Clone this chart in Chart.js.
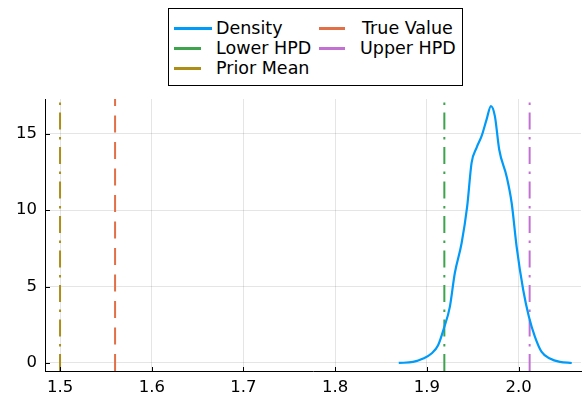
<!DOCTYPE html>
<html>
<head>
<meta charset="utf-8">
<script src="https://cdn.jsdelivr.net/npm/chart.js@4/dist/chart.umd.min.js"></script>
<style>
  html, body { margin: 0; padding: 0; background: #fff; }
  #wrap { position: relative; width: 583px; height: 400px; }
  #legend {
    position: absolute; left: 168px; top: 8px; width: 295px; height: 78px;
    border: 1px solid #000; background: #fff; box-sizing: border-box;
    font-family: "DejaVu Sans", sans-serif; font-size: 17.5px; color: #000;
  }
  .item { position: absolute; height: 20px; line-height: 20px; white-space: nowrap; }
  .item span.swatch { position: absolute; top: 9px; height: 3px; }
  .item span.label { position: absolute; top: 0px; }
</style>
</head>
<body>
<div id="wrap">
  <canvas id="chart" width="583" height="400"></canvas>
  <div id="legend"></div>
</div>
<script>
// kernel density of the posterior draws
const densityX = [1.8693, 1.8849, 1.8959, 1.9050, 1.9122, 1.9188, 1.9250, 1.9304, 1.9378, 1.9439,
                  1.9487, 1.9541, 1.9596, 1.9651, 1.9698, 1.9741, 1.9788, 1.9869, 1.9924, 1.9978,
                  2.0050, 2.0112, 2.0178, 2.0251, 2.0341, 2.0450, 2.0579];
const densityY = [0.00, 0.07, 0.29, 0.62, 1.16, 2.32, 3.67, 5.87, 7.83, 10.24,
                  13.08, 14.07, 14.83, 15.93, 16.80, 16.14, 13.96, 12.20, 10.46, 7.61,
                  4.77, 3.02, 1.71, 0.72, 0.29, 0.07, 0.00];

// reference values shown as vertical lines
const trueValue = 1.560;
const lowerHPD = 1.919;
const upperHPD = 2.012;
const priorMean = 1.500;

const xTicks = [1.5, 1.6, 1.7, 1.8, 1.9, 2.0];
const yTicks = [0, 5, 10, 15];
const xRange = [1.4836, 2.068];
const yRange = [-0.525, 17.26];

const palette = {
  density: '#009af9', trueValue: '#e26f46', lower: '#3da44d', upper: '#c271d2', prior: '#ac8d18'
};

function vline(label, x, color, dash) {
  return {
    label: label,
    data: [{ x: x, y: yRange[0] }, { x: x, y: yRange[1] }],
    borderColor: color,
    borderWidth: 2,
    borderDash: dash,
    borderCapStyle: 'butt',
    pointRadius: 0,
    fill: false
  };
}

const datasets = [
  {
    label: 'Density',
    data: densityX.map((x, i) => ({ x: x, y: densityY[i] })),
    borderColor: palette.density,
    borderWidth: 2.2,
    pointRadius: 0,
    cubicInterpolationMode: 'monotone',
    fill: false
  },
  vline('True Value', trueValue, palette.trueValue, [17, 9.5]),
  vline('Lower HPD', lowerHPD, palette.lower, [17, 7.5, 2.5, 7.5]),
  vline('Upper HPD', upperHPD, palette.upper, [17, 7.5, 2.5, 7.5]),
  vline('Prior Mean', priorMean, palette.prior, [17, 7.5, 2.5, 7.5])
];

// short inward tick marks on both axes
const innerTicks = {
  id: 'innerTicks',
  afterDraw(chart) {
    const { ctx, chartArea, scales } = chart;
    ctx.save();
    ctx.strokeStyle = '#000';
    ctx.lineWidth = 1;
    ctx.beginPath();
    scales.x.ticks.forEach(t => {
      const px = Math.round(scales.x.getPixelForValue(t.value)) + 0.5;
      ctx.moveTo(px, chartArea.bottom);
      ctx.lineTo(px, chartArea.bottom - 4);
    });
    scales.y.ticks.forEach(t => {
      const py = Math.round(scales.y.getPixelForValue(t.value)) + 0.5;
      ctx.moveTo(chartArea.left, py);
      ctx.lineTo(chartArea.left + 5, py);
    });
    ctx.stroke();
    ctx.restore();
  }
};

const tickFont = { family: '"DejaVu Sans", sans-serif', size: 16.5 };

new Chart(document.getElementById('chart'), {
  type: 'line',
  data: { datasets: datasets },
  options: {
    responsive: false,
    animation: false,
    layout: { padding: { top: 99, right: 2, left: 0, bottom: 0 } },
    plugins: { legend: { display: false }, tooltip: { enabled: false } },
    scales: {
      x: {
        type: 'linear',
        min: xRange[0],
        max: xRange[1],
        afterBuildTicks: s => { s.ticks = xTicks.map(v => ({ value: v })); },
        afterFit: s => { s.height = 29; },
        grid: { color: 'rgba(0,0,0,0.1)', lineWidth: 1, drawTicks: false },
        border: { color: '#000', width: 1 },
        ticks: { color: '#000', font: tickFont, padding: 7, callback: v => v.toFixed(1) }
      },
      y: {
        type: 'linear',
        min: yRange[0],
        max: yRange[1],
        afterBuildTicks: s => { s.ticks = yTicks.map(v => ({ value: v })); },
        afterFit: s => { s.width = 45; },
        grid: { color: 'rgba(0,0,0,0.1)', lineWidth: 1, drawTicks: false },
        border: { color: '#000', width: 1 },
        ticks: { color: '#000', font: tickFont, padding: 8, callback: v => String(v) }
      }
    }
  },
  plugins: [innerTicks]
});

// two-column legend, filled row by row
const legendItems = [
  { label: 'Density', color: palette.density, x: 5, w: 38, lw: 3, tx: 47, row: 0 },
  { label: 'True Value', color: palette.trueValue, x: 150, w: 26, lw: 2.5, tx: 193, row: 0 },
  { label: 'Lower HPD', color: palette.lower, x: 5, w: 27, lw: 2.5, tx: 47, row: 1 },
  { label: 'Upper HPD', color: palette.upper, x: 150, w: 26, lw: 2.5, tx: 191, row: 1 },
  { label: 'Prior Mean', color: palette.prior, x: 5, w: 27, lw: 2.5, tx: 47, row: 2 }
];
const legend = document.getElementById('legend');
legendItems.forEach(it => {
  const d = document.createElement('div');
  d.className = 'item';
  d.style.left = '0px';
  d.style.top = (9 + it.row * 20) + 'px';
  const sw = document.createElement('span');
  sw.className = 'swatch';
  sw.style.left = it.x + 'px';
  sw.style.width = it.w + 'px';
  sw.style.height = it.lw + 'px';
  sw.style.background = it.color;
  const lb = document.createElement('span');
  lb.className = 'label';
  lb.style.left = it.tx + 'px';
  lb.textContent = it.label;
  d.appendChild(sw);
  d.appendChild(lb);
  legend.appendChild(d);
});
</script>
</body>
</html>
